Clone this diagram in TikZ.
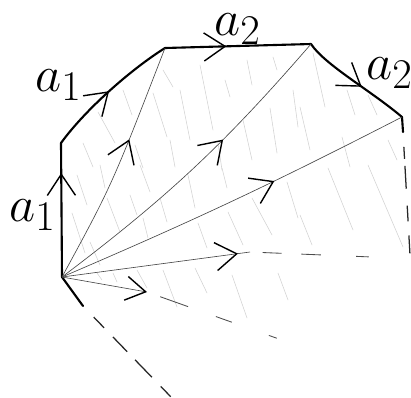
\documentclass[tikz,border=0pt]{standalone}
\usetikzlibrary{arrows.meta, decorations.markings}
\definecolor{DG}{RGB}{70,70,70}
\definecolor{LH}{RGB}{210,210,210}
\newcommand{\handlab}[1]{\scalebox{1.45}{$#1$}}

\begin{document}
\begin{tikzpicture}[
  x=0.025cm, y=-0.025cm,
  edge/.style={line width=1.5pt, line cap=round, draw=black},
  ray/.style={line width=0.45pt, draw=DG},
  hatch/.style={line width=0.4pt, line cap=round, draw=LH},
  dashline/.style={line width=0.9pt, draw=black!85, dash pattern=#1},
  tipat/.style={postaction={decorate}, decoration={markings,
    mark=at position #1 with {\arrow{Straight Barb[length=15pt,width=20pt,line width=1pt,color=black]}}}},
  endtip/.style={-{Straight Barb[length=14pt,width=17pt,line width=1pt,color=black]}},
  lbl/.style={font=\Huge, inner sep=0pt, anchor=base west}
]
\useasboundingbox (0,0) rectangle (411,397);

% hatching of the swept region
\foreach \xa/\ya/\xb/\yb in {
  123/90/132/115, 98/112/115/143, 83/143/93/167, 135/145/143/168,
  153/93/167/137, 163/70/173/87, 170/140/175/167,
  200/65/213/130, 225/80/230/97, 247/60/252/85, 273/57/277/70,
  180/90/190/140, 243/120/252/160, 270/108/277/153, 293/90/298/127,
  218/143/222/170,
  313/53/325/107, 347/90/355/115, 368/95/377/115, 388/140/397/160,
  300/107/310/150, 342/137/350/167,
  77/175/87/205, 100/165/105/188, 72/213/85/253, 107/198/120/232,
  90/242/100/265, 130/195/137/215, 143/218/148/238, 140/165/150/192,
  160/198/167/222,
  188/175/195/208, 222/168/227/188, 198/223/207/248, 228/212/243/245,
  252/198/272/235, 287/182/298/218,
  328/168/353/230, 368/165/403/247, 300/215/312/245,
  137/270/147/288, 97/273/102/280, 113/273/117/282, 163/270/177/307,
  195/268/207/293, 232/275/247/318, 278/273/288/300}
  \draw[hatch] (\xa,\ya) -- (\xb,\yb);

% corners
\coordinate (base) at (62,277);
\coordinate (p1)   at (61,143);
\coordinate (p2)   at (165,48);
\coordinate (p3)   at (311,44);
\coordinate (p4)   at (402,117);
\coordinate (p5)   at (403,132);
\coordinate (p6)   at (410,255);
\coordinate (h0)   at (250,252);
\coordinate (h1)   at (372,257);
\coordinate (l0)   at (147,292);
\coordinate (l1)   at (279,339);
\coordinate (q0)   at (83,306);
\coordinate (q1)   at (171,397);

% boundary
\draw[edge, tipat=0.776] (base) -- (p1);
\draw[edge, tipat=0.5] (p1) .. controls (85,110) and (130,70) .. (p2);
\draw[edge, tipat=0.42] (p2) -- (p3);
\draw[edge, tipat=0.57] (p3) .. controls (325,65) and (370,90) .. (p4);
\draw[edge] (p4) -- (p5);
\draw[edge] (base) -- (q0);

% rays from the base point
\draw[ray, tipat=0.61] (base) .. controls (112,185) .. (p2);
\draw[ray, tipat=0.62] (base) to[bend right=6] (p3);
\draw[ray, tipat=0.62] (base) to[bend right=2] (p4);
\draw[ray, tipat=0.936] (base) -- (h0);
\draw[ray, endtip] (base) -- (l0);

% broken continuations
\draw[dashline={on 0pt off 10.6pt on 8.5pt off 5pt on 16.3pt off 12pt on 11.3pt off 10pt on 12.8pt off 20pt}] (p5) -- (p6);
\draw[dashline={on 0pt off 9pt on 13.5pt off 14pt on 14pt off 25pt on 9pt off 20pt}, line width=0.6pt, draw=black!70] (h0) -- (h1);
\draw[dashline={on 0pt off 10pt on 21pt off 21pt on 12pt off 28pt on 6pt off 20pt}, line width=0.6pt, draw=black!70] (l0) -- (l1);
\draw[dashline={on 0pt off 11pt on 10.6pt off 9pt on 14.6pt off 8pt on 17.3pt off 9pt on 10.2pt off 20pt}] (q0) -- (q1);

% labels
\node[lbl] (la) at (35,91)  {\handlab{a_1}};
\node[lbl] (lb) at (9,221)  {\handlab{a_1}};
\node[lbl] (lc) at (214,35) {\handlab{a_2}};
\node[lbl] (ld) at (366,79) {\handlab{a_2}};
\end{tikzpicture}
\end{document}
